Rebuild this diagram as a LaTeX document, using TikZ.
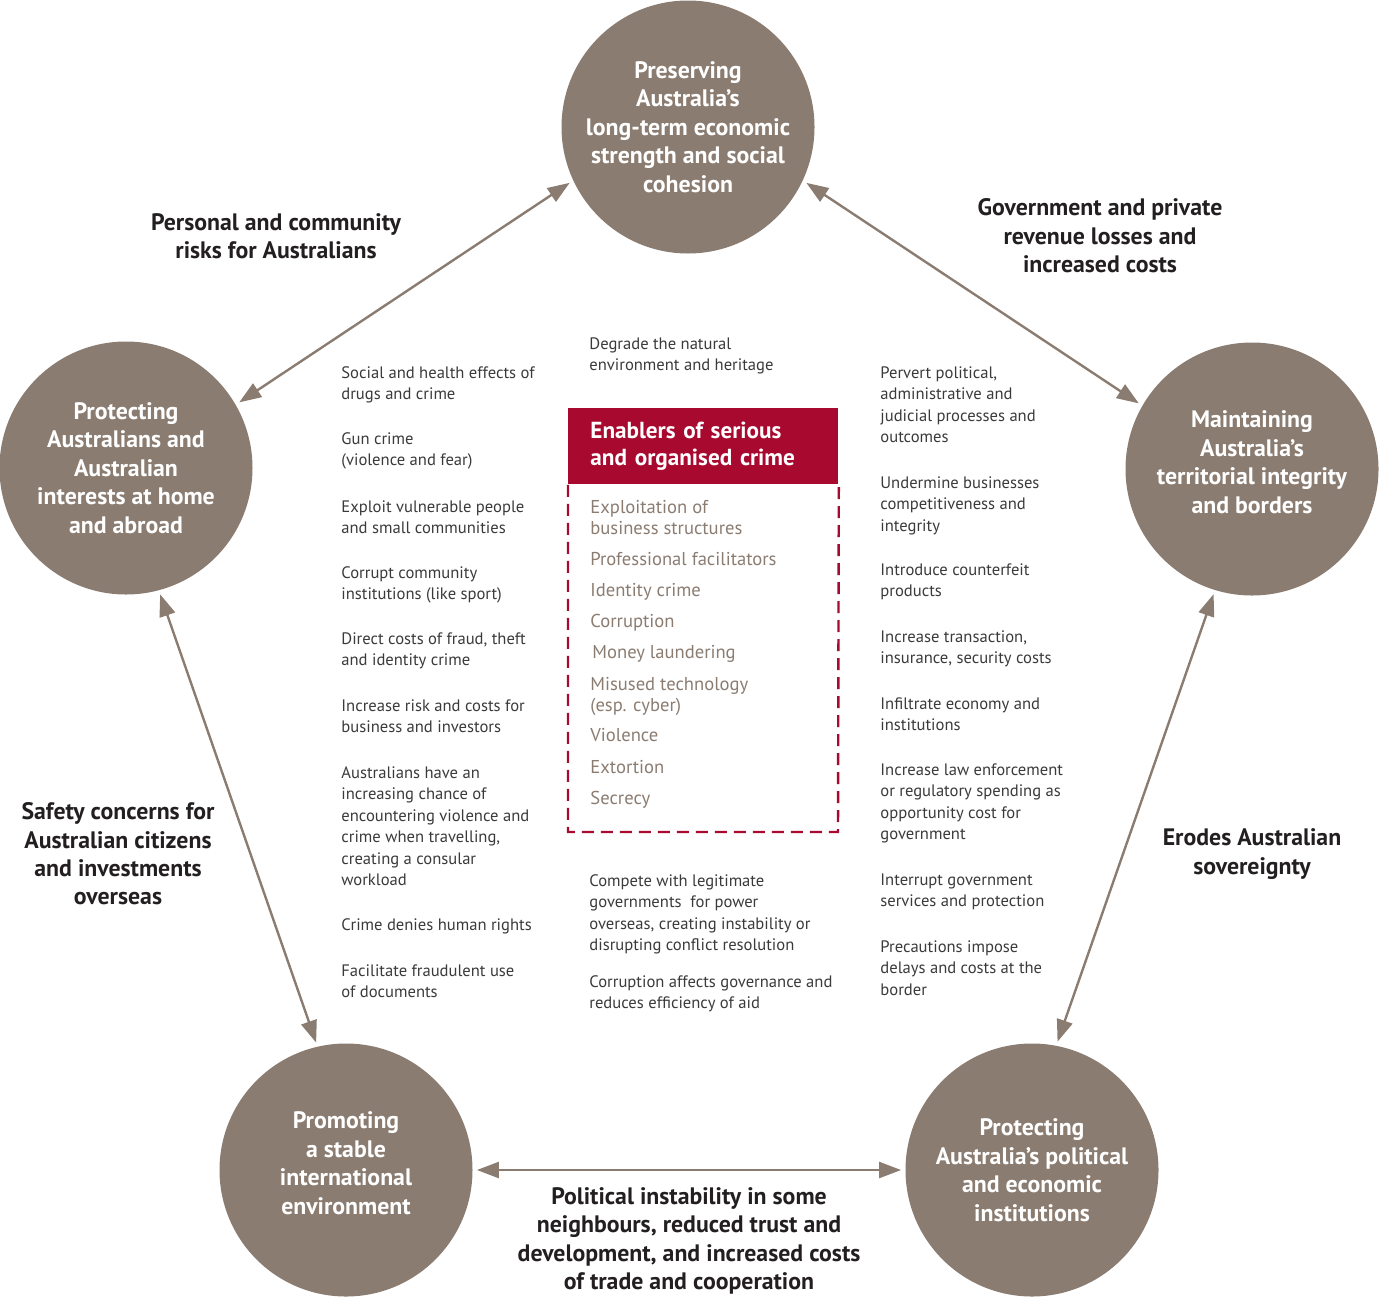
\documentclass[tikz,border=0pt]{standalone}
\usepackage{fontspec}
\setmainfont{PT Sans}
\usetikzlibrary{arrows.meta}
\definecolor{goalbrown}{HTML}{8B7C71}
\definecolor{enablerred}{HTML}{A8092F}
\definecolor{labelgrey}{HTML}{231F20}
\definecolor{effectgrey}{HTML}{3A3A3A}

\begin{document}
\begin{tikzpicture}[x=0.5pt,y=-0.5pt,
    goal/.style={circle, fill=goalbrown, minimum size=126.5pt, inner sep=0pt,
        text=white, align=center, font=\bfseries\fontsize{11.9}{14.25}\selectfont},
    goaltext/.style={text=white, align=center, inner sep=0pt,
        font=\bfseries\fontsize{11.9}{14.25}\selectfont},
    link/.style={goalbrown, line width=1.2pt,
        {Triangle[length=11pt,width=8pt]}-{Triangle[length=11pt,width=8pt]},
        shorten <=2pt, shorten >=2pt},
    risk/.style={text=labelgrey, align=center, font=\bfseries\fontsize{11.9}{14.2}\selectfont},
    effect/.style={anchor=north west, inner sep=0pt, text=effectgrey, align=left,
        font=\fontsize{8.3}{10.75}\selectfont},
    header/.style={anchor=north west, fill=enablerred, text=white, text width=113pt,
        inner xsep=11pt, minimum height=38pt, align=left,
        font=\bfseries\fontsize{11.6}{13.5}\selectfont},
    enabler/.style={anchor=north west, inner sep=0pt, text=goalbrown, align=left,
        font=\fontsize{9.3}{10.5}\selectfont}]
    \useasboundingbox (0,0) rectangle (1379,1301);

    % the five national interests
    \node[goal] (econ) at (688,127) {Preserving\\Australia's\\long-term economic\\strength and social\\cohesion};
    \node[goal] (home) at (126,468) {Protecting\\Australians and\\Australian\\interests at home\\and abroad};
    \node[goal] (border) at (1252,469) {};
    \node[goaltext] (bordertext) at (1252,462) {Maintaining\\Australia's\\territorial integrity\\and borders};
    \node[goal] (intl) at (346,1170) {};
    \node[goaltext] (intltext) at (346,1163) {Promoting\\a stable\\international\\environment};
    \node[goal] (inst) at (1032,1170) {Protecting\\Australia's political\\and economic\\institutions};

    \draw[link] (econ.205) -- (home.30);
    \draw[link] (econ.335) -- (border.150);
    \draw[link] (home.285) -- (intl.103);
    \draw[link] (border.253) -- (inst.79);
    \draw[link] (intl.0) -- (inst.180);

    \node[risk] (personal) at (276,236) {Personal and community\\risks for Australians};
    \node[risk] (revenue) at (1100,236) {Government and private\\revenue losses and\\increased costs};
    \node[risk] (safety) at (118,854) {Safety concerns for\\Australian citizens\\and investments\\overseas};
    \node[risk] (sovereign) at (1252,854) {Erodes Australian\\sovereignty};
    \node[risk] (stability) at (689,1241) {Political instability in some\\neighbours, reduced trust and\\development, and increased costs\\of trade and cooperation};

    % effects, left column
    \node[effect] (drugs) at (341,366) {Social and health effects of\\drugs and crime};
    \node[effect] (gun) at (341,432) {Gun crime\\(violence and fear)};
    \node[effect] (exploit) at (341,500) {Exploit vulnerable people\\and small communities};
    \node[effect] (sport) at (341,566) {Corrupt community\\institutions (like sport)};
    \node[effect] (fraud) at (341,632) {Direct costs of fraud, theft\\and identity crime};
    \node[effect] (invest) at (341,699) {Increase risk and costs for\\business and investors};
    \node[effect] (travel) at (341,766) {Australians have an\\increasing chance of\\encountering violence and\\crime when travelling,\\creating a consular\\workload};
    \node[effect] (rights) at (341,918) {Crime denies human rights};
    \node[effect] (docs) at (341,964) {Facilitate fraudulent use\\of documents};

    % effects, middle column
    \node[effect] (nature) at (589,337) {Degrade the natural\\environment and heritage};
    \node[effect] (compete) at (589,874) {Compete with legitimate\\governments\ \ for power\\overseas, creating instability or\\disrupting conflict resolution};
    \node[effect] (aid) at (589,975) {Corruption affects governance and\\reduces efficiency of aid};

    % effects, right column
    \node[effect] (pervert) at (880,366) {Pervert political,\\administrative and\\judicial processes and\\outcomes};
    \node[effect] (business) at (880,476) {Undermine businesses\\competitiveness and\\integrity};
    \node[effect] (fake) at (880,563) {Introduce counterfeit\\products};
    \node[effect] (costs) at (880,630) {Increase transaction,\\insurance, security costs};
    \node[effect] (infil) at (880,697) {Infiltrate economy and\\institutions};
    \node[effect] (police) at (880,763) {Increase law enforcement\\or regulatory spending as\\opportunity cost for\\government};
    \node[effect] (services) at (880,873) {Interrupt government\\services and protection};
    \node[effect] (delays) at (880,940) {Precautions impose\\delays and costs at the\\border};

    % enablers box
    \node[header] (hdr) at (568,408) {Enablers of serious\\and organised crime};
    \draw[enablerred, line width=1.2pt, dash pattern=on 6pt off 3.5pt]
        (hdr.south west) -- (568,832) -- (838,832) -- (hdr.south east);
    \node[enabler] (structures) at (590,500) {Exploitation of\\business structures};
    \node[enabler] (facil) at (590,552) {Professional facilitators};
    \node[enabler] (identity) at (590,583) {Identity crime};
    \node[enabler] (corrupt) at (590,614) {Corruption};
    \node[enabler] (money) at (592,645) {Money laundering};
    \node[enabler] (cyber) at (590,677) {Misused technology\\(esp. cyber)};
    \node[enabler] (violence) at (590,728) {Violence};
    \node[enabler] (extort) at (590,760) {Extortion};
    \node[enabler] (secrecy) at (590,791) {Secrecy};
\end{tikzpicture}
\end{document}
